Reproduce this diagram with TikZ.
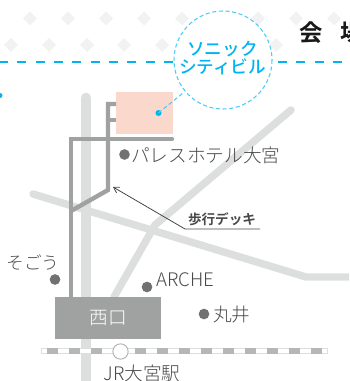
\documentclass[tikz,border=0pt]{standalone}
\usetikzlibrary{arrows.meta}
\usepackage{fontspec}
\setmainfont{Noto Sans CJK JP Light}
\newfontfamily\jpbold{Noto Sans CJK JP Bold}
\newfontfamily\jpmed{Noto Sans CJK JP Medium}
\definecolor{roadc}{HTML}{DDDFDE}
\definecolor{deck}{HTML}{A0A1A1}
\definecolor{railc}{HTML}{B5B6B6}
\definecolor{cyanc}{HTML}{00B5EF}
\definecolor{pinkc}{HTML}{FAD8CC}
\definecolor{dia}{HTML}{F1F2F2}
\definecolor{txt}{HTML}{4A4949}
\definecolor{dotc}{HTML}{727171}
\tikzset{
 road/.style={draw=roadc,line width=5.6pt,line cap=round,line join=miter},
 deckline/.style={draw=deck,line width=3.3pt,line join=miter},
 diam/.style={fill=dia,draw=none},
 spot/.style={circle,fill=dotc,draw=none,inner sep=0pt,minimum size=8pt},
 lab/.style={text=txt,inner sep=0pt,font=\fontsize{14pt}{14pt}\selectfont},
 cyandash/.style={cyanc,line width=1.5pt,dash pattern=on 6.75pt off 7pt},
 ringdash/.style={cyanc!70,line width=0.8pt,dash pattern=on 3pt off 2pt},
}
\begin{document}
\begin{tikzpicture}[x=0.75pt,y=-0.75pt]
\useasboundingbox (0,0) rectangle (349,381);
\clip (0,0) rectangle (349,381);
\foreach \px in {30,68,106,144,182,258,296,334} \fill[diam] (\px-7,18.5)--(\px,11.5)--(\px+7,18.5)--(\px,25.5)--cycle;
\foreach \px in {11,49,87,124,162,276} \fill[diam] (\px-7,45)--(\px,38)--(\px+7,45)--(\px,52)--cycle;
\draw[cyandash] (-1,62.5) -- (174,62.5);
\draw[cyandash] (278,62.5) -- (349,62.5);
\fill[cyanc] (0,95.5) circle (2.5);
\draw[road,line width=8pt] (86,98) -- (86,384);
\draw[road] (33,194) -- (306,277) -- (352,277);
\draw[road] (291,110) -- (155,225) -- (114,297);
\fill[pinkc] (116,92) rectangle (173,134);
\draw[deckline] (116,104) -- (108,104) -- (108,190) -- (71,211);
\draw[deckline] (108,120) -- (116,120);
\draw[deckline,line cap=round] (172,139) -- (71,139) -- (71,297);
\node[spot] (p1) at (124.5,154.5) {};
\node[lab,anchor=west] (palace) at (131,155) {パレスホテル大宮};
\coordinate (tip) at (113,187);
\coordinate (bend) at (185,229);
\coordinate (end) at (260,229);
\draw[txt,line width=0.6pt,-{Straight Barb[length=4pt,width=5pt]}] (end) -- (bend) -- (tip);
\node[text=txt,inner sep=0pt,anchor=south,font=\jpbold\fontsize{10.2pt}{10.2pt}\selectfont] (decklab) at (222,226.5) {歩行デッキ};
\node[lab,anchor=center,font=\fontsize{13.3pt}{13.3pt}\selectfont] (sogo) at (33,263) {そごう};
\node[spot] (p2) at (55,279.5) {};
\node[spot] (p3) at (147,287) {};
\node[lab,anchor=west] (arche) at (156,280) {ARCHE};
\node[spot] (p4) at (204,314) {};
\node[lab,anchor=west] (marui) at (213,315) {丸井};
\node[fill=deck,minimum width=79.5pt,minimum height=31.5pt,inner sep=0pt,anchor=north west,text=white,font=\fontsize{14pt}{14pt}\selectfont] (west) at (55,297) {西口};
\draw[draw=roadc,line width=4.5pt] (41,351.3) -- (327.5,351.3);
\draw[draw=white,line width=3pt] (41.7,351.3) -- (326.8,351.3);
\draw[draw=railc,line width=4.5pt,dash pattern=on 8.25pt off 8.25pt] (47.3,351.3) -- (327.5,351.3);
\node[circle,draw=roadc!80!black,line width=0.7pt,fill=white,minimum size=11.5pt,inner sep=0pt] (st) at (120.5,351.5) {};
\node[lab,anchor=center] (jr) at (142,373) {JR大宮駅};
\draw[ringdash] (223,60) circle (49);
\fill[cyanc] (158.5,113) circle (3);
\draw[ringdash] (158.5,113) -- (183,93);
\node[inner sep=0pt,align=center,text=cyanc,font=\jpmed\fontsize{13.2pt}{14pt}\selectfont] (sonic) at (222.5,58) {ソニック\\シティビル};
\node[inner sep=0pt,text=black!90,font=\jpbold\fontsize{17.5pt}{17.5pt}\selectfont] (kai) at (311,33) {会};
\node[inner sep=0pt,text=black!90,font=\jpbold\fontsize{17.5pt}{17.5pt}\selectfont] (jo) at (352,33) {場};
\end{tikzpicture}
\end{document}
